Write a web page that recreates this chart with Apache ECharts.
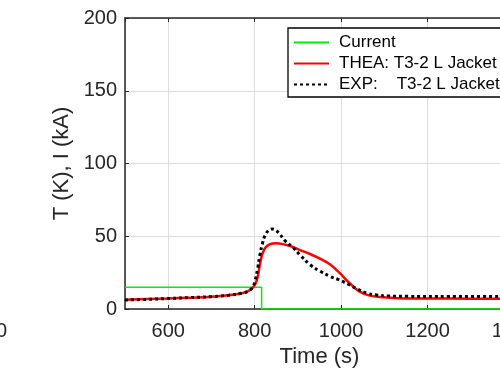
<!DOCTYPE html>
<html>
<head>
<meta charset="utf-8">
<script src="https://cdn.jsdelivr.net/npm/echarts@6/dist/echarts.min.js"></script>
<style>
html,body{margin:0;padding:0;overflow:hidden;background:#fff;width:500px;height:375px;}
#c{width:540px;height:375px;}
</style>
</head>
<body>
<div id="c"></div>
<script>
// ---- data ----
var seriesNames = ['Current', 'THEA: T3-2 L Jacket', 'EXP:    T3-2 L Jacket'];

var currentTime  = [500, 816, 816, 1400];
var currentValue = [15, 15, 0, 0];

var theaTime  = [500, 550, 600, 650, 700, 740, 770, 785, 795, 802, 807, 812, 816, 820, 826, 835, 850, 865, 882, 905, 928, 951, 974, 997, 1020, 1043, 1066, 1097, 1130, 1200, 1300, 1400];
var theaValue = [6.4, 6.8, 7.2, 7.8, 8.5, 9.5, 10.8, 12.3, 14.5, 17.5, 22, 30.5, 36, 39.5, 42.5, 44.5, 45.2, 44.6, 43.3, 40.5, 37.8, 34.6, 30.7, 24.6, 17.7, 11.9, 9.2, 8.0, 7.4, 7.2, 7.1, 7.0];

var expTime  = [500, 550, 600, 650, 700, 740, 770, 785, 795, 801, 807, 812, 818, 824, 832, 840, 848, 858, 870, 889, 905, 928, 951, 974, 993, 1005, 1020, 1036, 1059, 1082, 1109, 1150, 1250, 1400];
var expValue = [6.2, 6.6, 7.2, 7.8, 8.5, 9.5, 10.8, 12.3, 14.8, 19.5, 28, 37, 45, 50.5, 54, 55, 54.3, 51.5, 47, 42.1, 37.1, 30.5, 26, 22.5, 20.3, 18.8, 16.5, 14.0, 10.9, 9.6, 8.9, 8.7, 8.6, 8.5];

var xMin = 500, xMax = 1400;
var yMin = 0, yMax = 200, yStep = 50;
var xTitle = 'Time (s)';
var yTitle = 'T (K), I (kA)';

function pairs(t, v) { return t.map(function (x, i) { return [x, v[i]]; }); }
function plain(v) { return String(v); }

var FONT = "'Liberation Sans', Arial, Helvetica, sans-serif";
var TXT = '#262626';

var chart = echarts.init(document.getElementById('c'), null, {renderer: 'canvas'});
chart.setOption({
  animation: false,
  backgroundColor: '#fff',
  textStyle: {fontFamily: FONT},
  grid: {left: 125, top: 18, width: 389, height: 291, containLabel: false},
  xAxis: [{
    type: 'value', min: xMin, max: xMax, splitNumber: 5,
    name: xTitle, nameLocation: 'middle', nameGap: 31,
    nameTextStyle: {fontSize: 22, color: TXT, fontFamily: FONT},
    axisLine: {show: true, onZero: false, lineStyle: {color: TXT, width: 1.5}},
    axisTick: {show: true, inside: true, length: 4, lineStyle: {color: TXT, width: 1}},
    axisLabel: {show: true, showMinLabel: false, margin: 12, fontSize: 20, color: TXT, fontFamily: FONT, formatter: plain},
    splitLine: {show: true, lineStyle: {color: '#dedede', width: 1}}
  }, {
    type: 'value', position: 'top', min: xMin, max: xMax, splitNumber: 5,
    axisLine: {show: true, onZero: false, lineStyle: {color: TXT, width: 1.5}},
    axisTick: {show: true, inside: true, length: 4, lineStyle: {color: TXT, width: 1}},
    axisLabel: {show: false},
    splitLine: {show: false}
  }],
  yAxis: {
    type: 'value', min: yMin, max: yMax, interval: yStep,
    name: yTitle, nameLocation: 'middle', nameGap: 48,
    nameTextStyle: {fontSize: 22, color: TXT, fontFamily: FONT},
    axisLine: {show: true, onZero: false, lineStyle: {color: TXT, width: 1.5}},
    axisTick: {show: true, inside: true, length: 4, lineStyle: {color: TXT, width: 1}},
    axisLabel: {margin: 8, fontSize: 20, color: TXT, fontFamily: FONT, formatter: plain},
    splitLine: {show: true, lineStyle: {color: '#dedede', width: 1}}
  },
  legend: {
    data: seriesNames,
    orient: 'vertical', left: 288, top: 28,
    itemWidth: 35, itemHeight: 14, itemGap: 4,
    padding: [6, 40, 4, 5],
    itemStyle: {opacity: 0},
    borderColor: '#000', borderWidth: 1.3, backgroundColor: '#fff',
    textStyle: {fontSize: 17, color: '#000', fontFamily: FONT, padding: [0, 0, 0, 5]}
  },
  graphic: [{
    type: 'text', x: -4, y: 331,
    style: {text: '0', font: '20px ' + FONT, fill: TXT, verticalAlign: 'middle', align: 'left'}
  }],
  series: [{
    name: seriesNames[0], type: 'line', data: pairs(currentTime, currentValue),
    symbol: 'none', lineStyle: {color: '#00f000', width: 1.5}, itemStyle: {color: '#00f000'}, z: 2
  }, {
    name: seriesNames[1], type: 'line', data: pairs(theaTime, theaValue), smooth: 0.4,
    symbol: 'none', lineStyle: {color: '#ff0000', width: 2.5}, itemStyle: {color: '#ff0000'}, z: 3
  }, {
    name: seriesNames[2], type: 'line', data: pairs(expTime, expValue), smooth: 0.4,
    symbol: 'none', lineStyle: {color: '#000', width: 3, type: [3, 3]}, itemStyle: {color: '#000'}, z: 4
  }]
});
</script>
</body>
</html>
